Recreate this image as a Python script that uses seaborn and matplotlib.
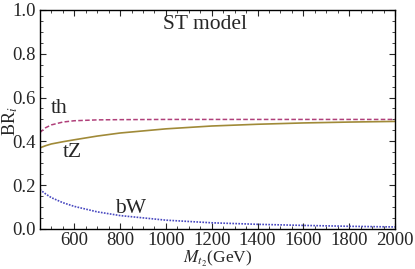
import numpy as np
import pandas as pd
import matplotlib
matplotlib.use("Agg")
import matplotlib.pyplot as plt
import seaborn as sns
from matplotlib.ticker import MultipleLocator

# Data (heavy top partner mass vs branching ratio)
mass = [450, 475, 500, 550, 600, 700, 800, 1000, 1200, 1400, 1600, 1800, 2000]
br_th = [0.440, 0.462, 0.475, 0.488, 0.494, 0.498, 0.499, 0.500, 0.500, 0.500, 0.500, 0.500, 0.500]
br_tz = [0.370, 0.380, 0.388, 0.398, 0.407, 0.424, 0.438, 0.457, 0.470, 0.478, 0.484, 0.488, 0.491]
br_bw = [0.180, 0.160, 0.143, 0.120, 0.103, 0.078, 0.061, 0.040, 0.028, 0.021, 0.016, 0.012, 0.009]

df = pd.DataFrame({"mass": mass, "th": br_th, "tZ": br_tz, "bW": br_bw})

sns.set_style("ticks")
plt.rcParams["font.family"] = ["Liberation Serif", "DejaVu Serif"]
plt.rcParams["mathtext.fontset"] = "stix"

fig = plt.figure(figsize=(4.15, 2.69), dpi=100)
ax = fig.add_axes([0.096, 0.149, 0.856, 0.814])

sns.lineplot(data=df, x="mass", y="th", ax=ax, color="#b0407a", lw=1.1, linestyle=(0, (3, 1.5)))
sns.lineplot(data=df, x="mass", y="tZ", ax=ax, color="#a08a38", lw=1.2)
sns.lineplot(data=df, x="mass", y="bW", ax=ax, color="#4848c0", lw=1.2, linestyle=(0, (1, 0.8)))

ax.set_xlim(450, 2000)
ax.set_ylim(0, 1.0)
ax.xaxis.set_major_locator(MultipleLocator(200))
ax.xaxis.set_minor_locator(MultipleLocator(50))
ax.yaxis.set_major_locator(MultipleLocator(0.2))
ax.yaxis.set_minor_locator(MultipleLocator(0.05))
ax.yaxis.set_major_formatter(matplotlib.ticker.FormatStrFormatter("%.1f"))
ax.tick_params(which="both", direction="in", top=True, right=True, labelsize=13.5, pad=3)
ax.tick_params(axis="x", which="major", pad=2)
ax.tick_params(which="major", length=4, width=0.8)
ax.tick_params(which="minor", length=2, width=0.6)
for s in ax.spines.values():
    s.set_linewidth(1.0)
    s.set_color("black")

ax.set_xlabel(r"$M_{t_2}$(GeV)", fontsize=12.5, labelpad=0)
ax.set_ylabel(r"BR$_i$", fontsize=13)
ax.yaxis.set_label_coords(-0.082, 0.49)
ax.yaxis.label.set_va("center")

ax.text(1170, 0.935, "ST model", fontsize=15.5, ha="center", va="center")
ax.text(533, 0.55, "th", fontsize=15.5, ha="center", va="center")
ax.text(590, 0.35, "tZ", fontsize=15.5, ha="center", va="center")
ax.text(845, 0.095, "bW", fontsize=15.5, ha="center", va="center")

fig.savefig("out.png", dpi=100)
